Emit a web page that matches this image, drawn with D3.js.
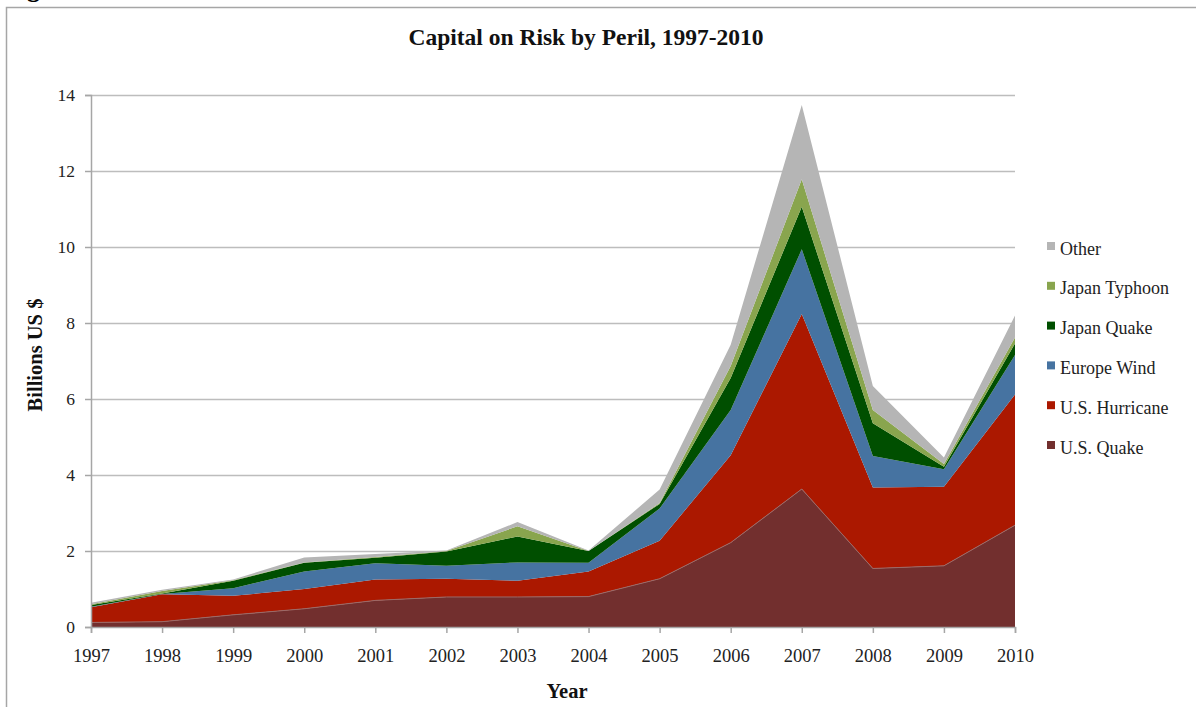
<!DOCTYPE html>
<html>
<head>
<meta charset="utf-8">
<script src="https://cdn.jsdelivr.net/npm/d3@7/dist/d3.min.js"></script>
<style>
  html, body { margin: 0; padding: 0; background: #fff; }
  svg { display: block; }
  text { font-family: "Liberation Serif", "DejaVu Serif", serif; }
</style>
</head>
<body>
<svg id="chart" width="1196" height="707"></svg>
<script>
const years = [1997, 1998, 1999, 2000, 2001, 2002, 2003, 2004, 2005, 2006, 2007, 2008, 2009, 2010];
const usQuake     = [0.12, 0.14, 0.32, 0.48, 0.70, 0.79, 0.79, 0.80, 1.27, 2.22, 3.63, 1.54, 1.61, 2.68];
const usHurricane = [0.40, 0.72, 0.50, 0.52, 0.55, 0.48, 0.43, 0.66, 1.00, 2.30, 4.61, 2.13, 2.08, 3.44];
const europeWind  = [0.01, 0.01, 0.20, 0.46, 0.43, 0.34, 0.48, 0.23, 0.85, 1.19, 1.70, 0.83, 0.46, 1.04];
const japanQuake  = [0.05, 0.01, 0.20, 0.23, 0.14, 0.38, 0.68, 0.31, 0.12, 0.84, 1.12, 0.86, 0.07, 0.30];
const japanTyphoon= [0.02, 0.07, 0.01, 0.01, 0.02, 0.01, 0.27, 0.00, 0.02, 0.32, 0.72, 0.35, 0.07, 0.16];
const other       = [0.04, 0.03, 0.02, 0.13, 0.08, 0.01, 0.11, 0.01, 0.36, 0.56, 1.96, 0.63, 0.17, 0.58];
const seriesNames = ["U.S. Quake", "U.S. Hurricane", "Europe Wind", "Japan Quake", "Japan Typhoon", "Other"];
const seriesColors = ["#722f2e", "#ab1800", "#4673a1", "#004f00", "#89a54e", "#b5b5b5"];
const yTicks = [0, 2, 4, 6, 8, 10, 12, 14];
const title = "Capital on Risk by Peril, 1997-2010";

const seriesValues = [usQuake, usHurricane, europeWind, japanQuake, japanTyphoon, other];
const table = years.map((yr, i) => {
  const row = { year: yr };
  seriesNames.forEach((n, k) => row[n] = seriesValues[k][i]);
  return row;
});

const svg = d3.select("#chart");
const plotL = 91, plotR = 1015, plotT = 95, plotB = 627;

const x = d3.scaleLinear().domain([1997, 2010]).range([plotL, plotR]);
const y = d3.scaleLinear().domain([0, 14]).range([plotB, plotT]);

// outer frame
svg.append("rect").attr("x", 6.5).attr("y", 7.5).attr("width", 1300).attr("height", 800)
  .attr("fill", "none").attr("stroke", "#a6a6a6").attr("stroke-width", 1.5);
// clipped caption above frame
svg.append("text").attr("x", 4).attr("y", -3).attr("font-size", 26).attr("font-weight", "bold")
  .attr("fill", "#000").text("Figure");

// title
svg.append("text").attr("x", 586).attr("y", 45).attr("text-anchor", "middle")
  .attr("font-size", 23.5).attr("font-weight", "bold").attr("fill", "#111").text(title);

// gridlines
svg.append("g").selectAll("line").data(yTicks.filter(d => d > 0)).join("line")
  .attr("x1", plotL).attr("x2", plotR)
  .attr("y1", d => y(d) + 0.5).attr("y2", d => y(d) + 0.5)
  .attr("stroke", "#bdbdbd").attr("stroke-width", 1.5);

// stacked areas
const stack = d3.stack().keys(seriesNames);
const layers = stack(table);
const area = d3.area()
  .x(d => x(d.data.year))
  .y0(d => y(d[0]))
  .y1(d => y(d[1]));
svg.append("g").selectAll("path").data(layers).join("path")
  .attr("d", area)
  .attr("fill", (d, i) => seriesColors[i]);

// light line on top of U.S. Quake
const topLine = d3.line().x(d => x(d.data.year)).y(d => y(d[1]));
svg.append("path").attr("d", topLine(layers[0]))
  .attr("fill", "none").attr("stroke", "#9a6a68").attr("stroke-width", 1);

// y axis
const yAxis = d3.axisLeft(y).tickValues(yTicks).tickSize(6).tickPadding(10).tickFormat(d3.format("d"));
const gy = svg.append("g").attr("transform", `translate(${plotL},0)`).call(yAxis);
gy.select(".domain").attr("stroke", "#a6a6a6").attr("stroke-width", 1.5);
gy.selectAll(".tick line").attr("stroke", "#a6a6a6").attr("stroke-width", 1.5);
gy.selectAll(".tick text").attr("font-size", 17.5).attr("fill", "#222");

// x axis
const xAxis = d3.axisBottom(x).tickValues(years).tickSize(6).tickPadding(16).tickFormat(d3.format("d"));
const gx = svg.append("g").attr("transform", `translate(0,${plotB})`).call(xAxis);
gx.select(".domain").attr("stroke", "#a6a6a6").attr("stroke-width", 1.5);
gx.selectAll(".tick line").attr("stroke", "#a6a6a6").attr("stroke-width", 1.5);
gx.selectAll(".tick text").attr("font-size", 18.5).attr("fill", "#222");

// axis titles
svg.append("text").attr("x", 567).attr("y", 698).attr("text-anchor", "middle")
  .attr("font-size", 20.5).attr("font-weight", "bold").attr("fill", "#111").text("Year");
svg.append("text").attr("transform", "translate(42,355) rotate(-90)").attr("text-anchor", "middle")
  .attr("font-size", 20.5).attr("font-weight", "bold").attr("fill", "#111").text("Billions US $");

// legend (reverse order)
const legendOrder = seriesNames.map((n, i) => ({ name: n, color: seriesColors[i] })).reverse();
const lg = svg.append("g").selectAll("g").data(legendOrder).join("g")
  .attr("transform", (d, i) => `translate(1047,${242 + i * 39.8})`);
lg.append("rect").attr("width", 8).attr("height", 8).attr("fill", d => d.color);
lg.append("text").attr("x", 13).attr("y", 12.5).attr("font-size", 18).attr("fill", "#222").text(d => d.name);
</script>
</body>
</html>
